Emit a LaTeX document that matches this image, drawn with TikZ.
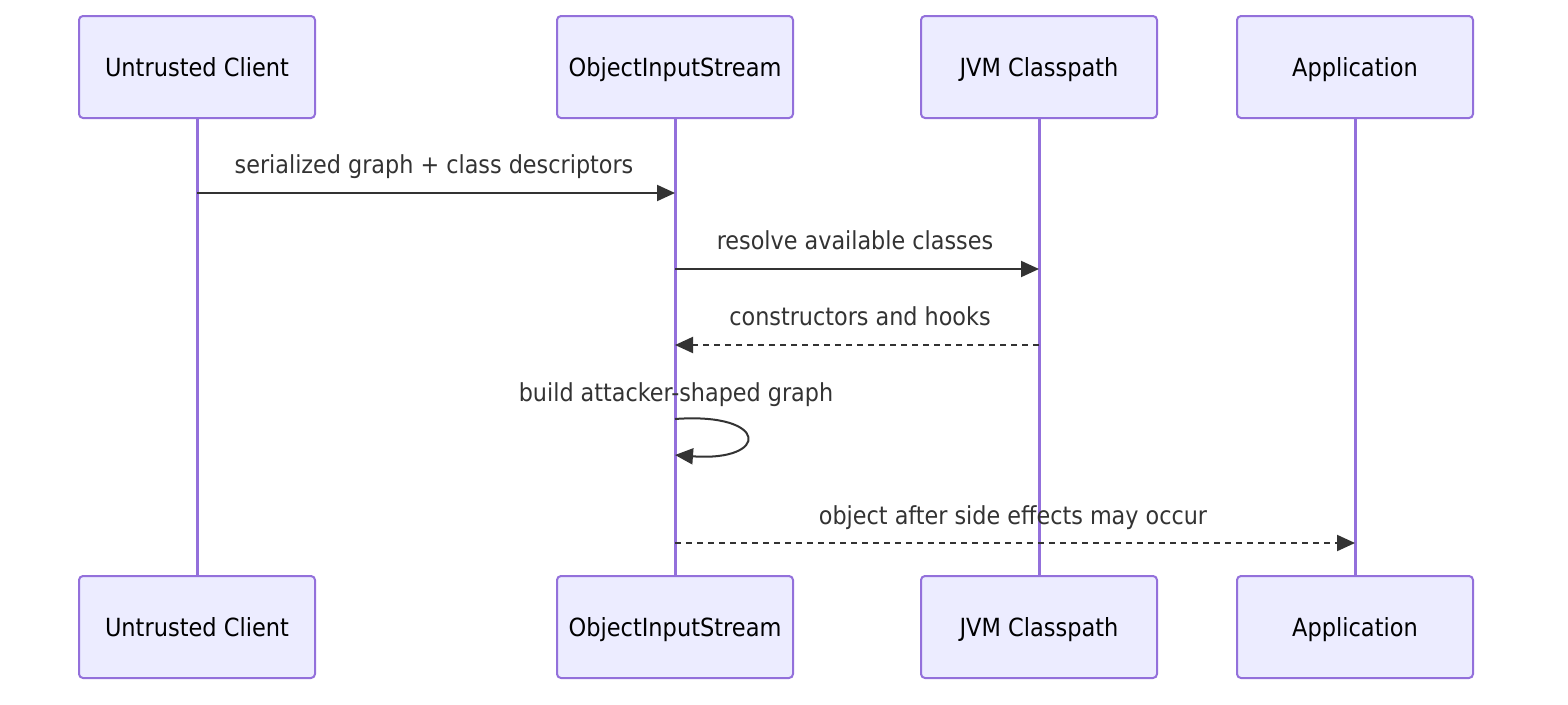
\documentclass[tikz,border=0pt]{standalone}
\usepackage{fontspec}
\setmainfont{DejaVu Sans Condensed}
\usetikzlibrary{arrows.meta}
\definecolor{boxfill}{HTML}{ECECFF}
\definecolor{boxline}{HTML}{9370DB}
\definecolor{msg}{HTML}{333333}
\tikzset{
  actor/.style={draw=boxline, fill=boxfill, line width=2pt, rounded corners=4pt,
    minimum width=236pt, minimum height=102pt, inner sep=0pt, text height=20pt, text depth=2pt,
    font=\fontsize{25}{29}\selectfont, text=black},
  life/.style={draw=boxline, line width=3pt},
  msgline/.style={draw=msg, line width=2pt, -{Triangle[length=18pt,width=16pt]}},
  msgdash/.style={msgline, dash pattern=on 6pt off 5pt},
  lbl/.style={font=\fontsize{24.8}{28}\selectfont, text=msg, inner sep=0pt, anchor=base},
}
\begin{document}
\begin{tikzpicture}[x=1pt,y=-1pt]
\useasboundingbox (0,0) rectangle (1568,704);
% top actors
\node[actor] (t1) at (197,67) {Untrusted Client};
\node[actor] (t2) at (675,67) {ObjectInputStream};
\node[actor] (t3) at (1039,67) {JVM Classpath};
\node[actor] (t4) at (1355,67) {Application};
% bottom actors
\node[actor] (b1) at (197,627) {Untrusted Client};
\node[actor] (b2) at (675,627) {ObjectInputStream};
\node[actor] (b3) at (1039,627) {JVM Classpath};
\node[actor] (b4) at (1355,627) {Application};
% lifelines
\draw[life] (t1.south) -- (b1.north);
\draw[life] (t2.south) -- (b2.north);
\draw[life] (t3.south) -- (b3.north);
\draw[life] (t4.south) -- (b4.north);
% message coordinates
\coordinate (m1a) at (t1.south |- 0,193);
\coordinate (m1b) at (t2.south |- 0,193);
\coordinate (m2a) at (t2.south |- 0,269);
\coordinate (m2b) at (t3.south |- 0,269);
\coordinate (m3a) at (t3.south |- 0,345);
\coordinate (m3b) at (t2.south |- 0,345);
\coordinate (m4a) at (t2.south |- 0,419);
\coordinate (m4b) at (t2.south |- 0,455);
\coordinate (m5a) at (t2.south |- 0,543);
\coordinate (m5b) at (t4.south |- 0,543);
% messages
\draw[msgline] (m1a) -- (m1b);
\node[lbl] (l1) at (434,173) {serialized graph + class descriptors};
\draw[msgline] (m2a) -- (m2b);
\node[lbl] (l2) at (855,249) {resolve available classes};
\draw[msgdash] (m3a) -- (m3b);
\node[lbl] (l3) at (860,325) {constructors and hooks};
\draw[msgline] (m4a) .. controls (770,412) and (770,462) .. (m4b);
\node[lbl] (l4) at (676,401) {build attacker-shaped graph};
\draw[msgdash] (m5a) -- (m5b);
\node[lbl] (l5) at (1013,524) {object after side effects may occur};
\end{tikzpicture}
\end{document}
